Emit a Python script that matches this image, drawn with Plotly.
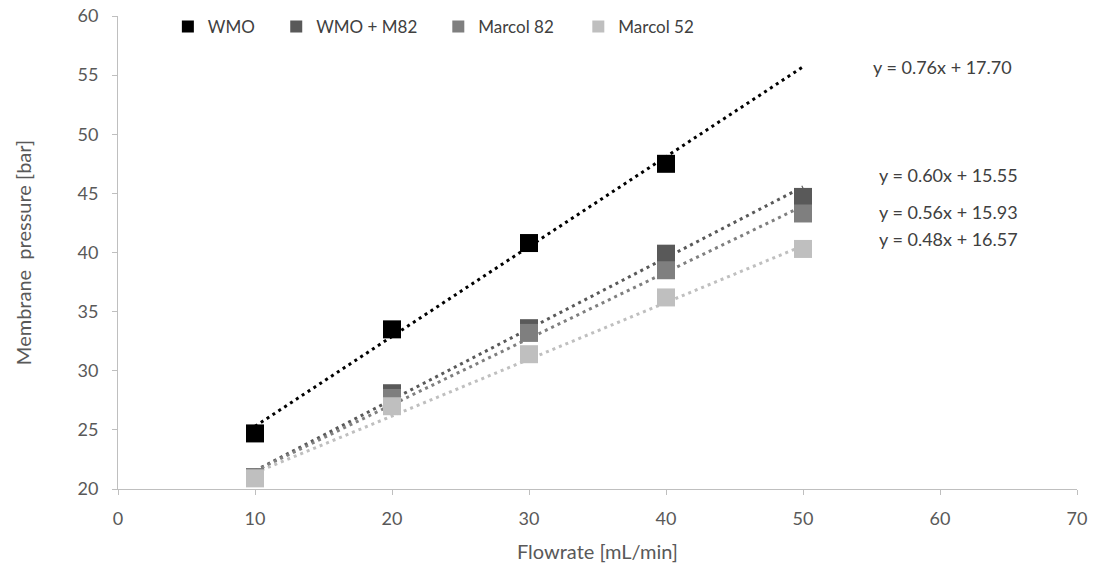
import plotly.graph_objects as go

flowrate = [10, 20, 30, 40, 50]
series_names = ["WMO", "WMO + M82", "Marcol 82", "Marcol 52"]
wmo = [24.7, 33.5, 40.8, 47.5, None]
wmo_m82 = [21.0, 28.1, 33.6, 39.9, 44.7]
marcol82 = [21.0, 27.7, 33.2, 38.5, 43.3]
marcol52 = [20.9, 27.0, 31.4, 36.2, 40.3]
slopes = [0.76, 0.60, 0.56, 0.48]
intercepts = [17.70, 15.55, 15.93, 16.57]
trend_x = [10, 50]
x_ticks = [0, 10, 20, 30, 40, 50, 60, 70]
y_ticks = [20, 25, 30, 35, 40, 45, 50, 55, 60]

colors = ["#000000", "#595959", "#7f7f7f", "#bfbfbf"]
values = [wmo, wmo_m82, marcol82, marcol52]
label_pos = [(60.15, 55.69), (60.6, 46.55), (60.6, 43.43), (60.6, 41.14)]
legend_ids = ["legend", "legend2", "legend3", "legend4"]
legend_x = [0.052, 0.165, 0.334, 0.480]

fig = go.Figure()
for i in range(4):
    ty = [slopes[i] * x + intercepts[i] for x in trend_x]
    fig.add_trace(go.Scatter(x=trend_x, y=ty, mode="lines", showlegend=False,
                             line=dict(color=colors[i], width=3, dash="3px,4px"),
                             hoverinfo="skip"))
for i in range(4):
    fig.add_trace(go.Scatter(x=flowrate, y=values[i], mode="markers", name=series_names[i],
                             legend=legend_ids[i],
                             marker=dict(symbol="square", size=18, color=colors[i],
                                         line=dict(width=0)),
                             cliponaxis=False))

for i in range(4):
    fig.add_annotation(x=label_pos[i][0], y=label_pos[i][1], xref="x", yref="y",
                       text=f"y = {slopes[i]:.2f}x + {intercepts[i]:.2f}",
                       showarrow=False, font=dict(size=18, color="#404040"))

axis_common = dict(showgrid=False, zeroline=False, showline=True, linecolor="#bfbfbf",
                   linewidth=1, ticks="outside", tickcolor="#bfbfbf", ticklen=5,
                   tickfont=dict(size=18, color="#595959"),
                   title_font=dict(size=20, color="#595959"))

legend_common = dict(orientation="h", y=0.977, xanchor="left", yanchor="middle",
                     font=dict(size=17, color="#404040"), itemsizing="constant",
                     bgcolor="rgba(0,0,0,0)")

layout_legends = {}
for i in range(4):
    layout_legends[legend_ids[i]] = dict(x=legend_x[i], **legend_common)

fig.update_layout(
    width=1094, height=565,
    margin=dict(l=118, r=17, t=16, b=76, autoexpand=False),
    paper_bgcolor="white", plot_bgcolor="white",
    font=dict(family="Lato, Open Sans, sans-serif", color="#595959"),
    showlegend=True,
    xaxis=dict(range=[0, 70], tickvals=x_ticks, ticklabelstandoff=8,
               title=dict(text="Flowrate [mL/min]", standoff=17), **axis_common),
    yaxis=dict(range=[20, 60], tickvals=y_ticks, ticklabelstandoff=10,
               title=dict(text="Membrane  pressure [bar]", standoff=40), **axis_common),
    **layout_legends,
)

fig.write_html("out.html")
